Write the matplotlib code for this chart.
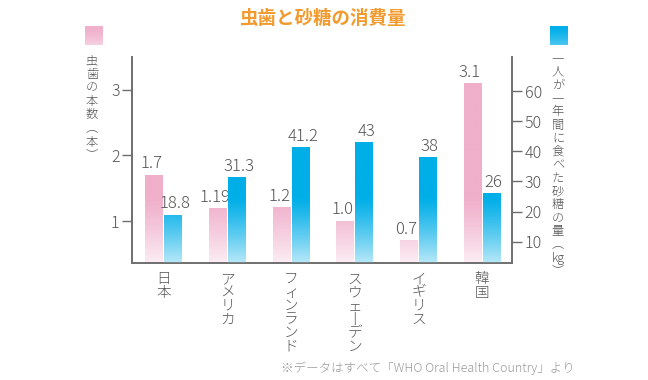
import numpy as np
import matplotlib
matplotlib.use("Agg")
import matplotlib.pyplot as plt
from matplotlib.colors import to_rgb

plt.rcParams['font.family'] = ['Noto Sans CJK JP', 'DejaVu Sans']

countries = ['日本', 'アメリカ', 'フィンランド', 'スウェーデン', 'イギリス', '韓国']
# vertical-writing forms for the category labels
countries_vert = ['日本', 'アメリカ', 'フィンランド', 'スウ\u30a7丨デン', 'イギリス', '韓国']
caries = [1.7, 1.19, 1.2, 1.0, 0.7, 3.1]
caries_labels = ['1.7', '1.19', '1.2', '1.0', '0.7', '3.1']
sugar = [18.8, 31.3, 41.2, 43, 38, 26]
sugar_labels = ['18.8', '31.3', '41.2', '43', '38', '26']

pink = to_rgb('#f0afcb')
blue = to_rgb('#00aee8')
text_gray = '#555555'
spine_gray = '#6e6e6e'


def gradient_bar(ax, x0, x1, top, color, ylim, fade_from=0.32, fade_amt=0.78):
    # colour depends on absolute height in the axes, light at the bottom
    y0 = ylim[0]
    ys = np.linspace(top, y0, 200)
    frac = (ys - ylim[0]) / (ylim[1] - ylim[0])
    t = np.clip((fade_from - frac) / fade_from, 0, 1) ** 1.2 * fade_amt
    c = np.array(color)[None, :] * (1 - t[:, None]) + t[:, None]
    img = np.repeat(c[:, None, :], 2, axis=1)
    ax.imshow(img, extent=(x0, x1, y0, top), aspect='auto', zorder=2,
              interpolation='bilinear')


fig = plt.figure(figsize=(6.48, 3.80), dpi=100)
ax = fig.add_axes([132 / 648, 117 / 380, 380 / 648, 206 / 380])
ax2 = ax.twinx()

ylim1 = (0.36, 3.5)
ylim2 = (2.9, 71.3)
xlim = (-0.5, 5.47)
w = 0.28
off = 0.15

for i in range(len(countries)):
    gradient_bar(ax, i - off - w / 2, i - off + w / 2, caries[i], pink, ylim1)
    ax.text(i - off - 0.04, caries[i] + 0.04, caries_labels[i], ha='center',
            va='bottom', fontsize=12, color=text_gray, fontweight='light')
    gradient_bar(ax2, i + off - w / 2, i + off + w / 2, sugar[i], blue, ylim2,
                 fade_amt=0.72)
    ax2.text(i + off + 0.03, sugar[i] + 0.9, sugar_labels[i], ha='center',
             va='bottom', fontsize=12, color=text_gray, fontweight='light')

for a in (ax, ax2):
    a.set_xlim(*xlim)
    a.spines['top'].set_visible(False)
    for s in ('left', 'right', 'bottom'):
        a.spines[s].set_color(spine_gray)
        a.spines[s].set_linewidth(1.2)
ax.set_ylim(*ylim1)
ax2.set_ylim(*ylim2)
ax.set_yticks([1, 2, 3])
ax2.set_yticks([10, 20, 30, 40, 50, 60])
for a in (ax, ax2):
    a.tick_params(axis='y', length=7, width=1, color=spine_gray,
                  labelcolor=text_gray, labelsize=11.5, pad=2)
    for lbl in a.get_yticklabels():
        lbl.set_fontweight('light')
ax.set_xticks([])
ax2.set_xticks([])

# category labels, written vertically
for i, name in enumerate(countries_vert):
    ax.text(i, -0.045, '\n'.join(name), transform=ax.get_xaxis_transform(),
            ha='center', va='top', fontsize=10.5, color=text_gray,
            linespacing=0.95, fontweight='light')

# title
fig.text(322 / 648, 1 - 18 / 380, '虫歯と砂糖の消費量', ha='center', va='center',
         fontsize=13.3, fontweight='bold', color='#f39a2e')

# legend squares
lp = fig.add_axes([85 / 648, 1 - 45 / 380, 18 / 648, 19 / 380])
lb = fig.add_axes([550 / 648, 1 - 45 / 380, 18 / 648, 19 / 380])
for la, col, amt in ((lp, pink, 0.55), (lb, blue, 0.45)):
    t = np.linspace(0, amt, 50) ** 1.5
    c = np.array(col)[None, :] * (1 - t[:, None]) + t[:, None]
    la.imshow(np.repeat(c[:, None, :], 2, axis=1), aspect='auto')
    la.axis('off')

# axis titles, written vertically
left_label = '虫歯の本数\ufe35本\ufe36'
fig.text(92 / 648, 1 - 54 / 380, '\n'.join(left_label), ha='center', va='top',
         fontsize=8.8, color=text_gray, linespacing=1.06, fontweight='light')
right_chars = list('一人が一年間に食べた砂糖の量') + ['\ufe35', 'kg', '\ufe36']
fig.text(558 / 648, 1 - 52 / 380, '\n'.join(right_chars), ha='center', va='top',
         fontsize=8.8, color=text_gray, linespacing=1.03, fontweight='light')

# footnote
fig.text(575 / 648, 1 - 368 / 380, '※データはすべて「WHO Oral Health Country」より',
         ha='right', va='center', fontsize=9, color='#9a9a9a', fontweight='light')

fig.savefig('out.png', dpi=100)
